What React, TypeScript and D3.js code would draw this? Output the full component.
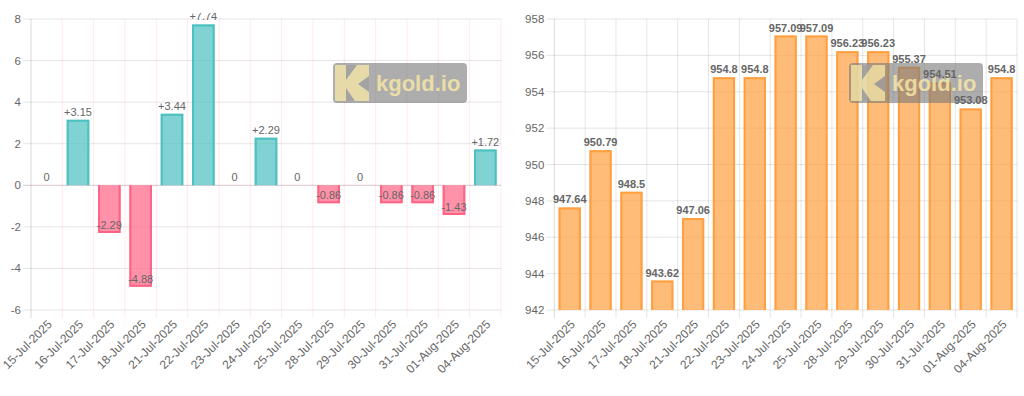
import * as d3 from 'd3'

const dates = [
  '15-Jul-2025', '16-Jul-2025', '17-Jul-2025', '18-Jul-2025', '21-Jul-2025',
  '22-Jul-2025', '23-Jul-2025', '24-Jul-2025', '25-Jul-2025', '28-Jul-2025',
  '29-Jul-2025', '30-Jul-2025', '31-Jul-2025', '01-Aug-2025', '04-Aug-2025'
]
const changes = [0, 3.15, -2.29, -4.88, 3.44, 7.74, 0, 2.29, 0, -0.86, 0, -0.86, -0.86, -1.43, 1.72]
const prices = [
  947.64, 950.79, 948.5, 943.62, 947.06, 954.8, 954.8, 957.09,
  957.09, 956.23, 956.23, 955.37, 954.51, 953.08, 954.8
]
const changeTicks = [-6, -4, -2, 0, 2, 4, 6, 8]
const priceTicks = [942, 944, 946, 948, 950, 952, 954, 956, 958]

const FONT = '"Liberation Sans", Arial, Helvetica, sans-serif'
const TEXT = '#666'
const GRID = 'rgba(0,0,0,0.1)'

const Watermark = ({ x, y }: { x: number; y: number }) => (
  <g transform={`translate(${x},${y})`}>
    <rect width={134} height={40} rx={4} fill="#7a7a7a" opacity={0.62} />
    <g transform="translate(2,2)" opacity={0.75}>
      <rect width={34} height={36} fill="#fbe9a8" />
      <polygon points="11,0 22,0 11,15" fill="#a0a0a0" />
      <polygon points="34,11 34,27 23,19" fill="#a0a0a0" />
      <polygon points="11,23 11,36 20,36" fill="#a0a0a0" />
    </g>
    <text x={43} y={28} fontFamily={FONT} fontWeight="bold" fontSize={22} fill="#fbe9a8" opacity={0.8}>
      kgold.io
    </text>
  </g>
)

type ChartProps = {
  values: number[]
  ticks: number[]
  domain: [number, number]
  left: number
  right: number
  kind: 'change' | 'price'
}

const Chart = ({ values, ticks, domain, left, right, kind }: ChartProps) => {
  const top = 19
  const bottom = 310
  const x = d3.scaleBand<string>().domain(dates).range([left, right])
  const y = d3.scaleLinear().domain(domain).range([bottom, top])
  const bw = x.bandwidth() * 0.72
  const base = kind === 'change' ? y(0) : y(domain[0])
  const vGrid = kind === 'change' ? 'rgba(255,99,132,0.14)' : GRID
  const bounds = d3.range(dates.length + 1).map(i => left + i * x.bandwidth())
  const clipId = `clip-${kind}`

  const fmt = (v: number) => (kind === 'price' ? String(v) : v > 0 ? `+${v}` : String(v))
  const fill = (v: number) =>
    kind === 'price' ? 'rgba(255,159,64,0.7)' : v >= 0 ? 'rgba(75,192,192,0.7)' : 'rgba(255,99,132,0.7)'
  const stroke = (v: number) =>
    kind === 'price' ? 'rgb(255,159,64)' : v >= 0 ? 'rgb(75,192,192)' : 'rgb(255,99,132)'

  return (
    <g>
      <defs>
        <clipPath id={clipId}>
          <rect x={left - 40} y={13} width={right - left + 60} height={380} />
        </clipPath>
      </defs>
      {ticks.map(t => (
        <line key={t} x1={left - 8} x2={right} y1={y(t)} y2={y(t)}
          stroke={kind === 'change' && t === 0 ? 'rgba(200,160,170,0.6)' : GRID} />
      ))}
      {bounds.map((bx, i) => (
        <line key={i} x1={bx} x2={bx} y1={top} y2={bottom + 8}
          stroke={i === 0 ? 'rgba(0,0,0,0.15)' : vGrid} />
      ))}
      {ticks.map(t => (
        <text key={t} x={left - 10} y={y(t)} dy="0.35em" textAnchor="end"
          fontFamily={FONT} fontSize={11.5} fill={TEXT}>{t}</text>
      ))}
      {dates.map(d => (
        <text key={d} transform={`translate(${x(d)! + x.bandwidth() / 2 + 3},${bottom + 12}) rotate(-45)`}
          textAnchor="end" dy="0.35em" fontFamily={FONT} fontSize={12} fill={TEXT}>{d}</text>
      ))}
      {values.map((v, i) => {
        if (v === 0 && kind === 'change') return null
        const cx = x(dates[i])! + x.bandwidth() / 2
        const x0 = cx - bw / 2
        const yv = y(v)
        const y1 = Math.min(yv, base)
        const h = Math.abs(base - yv)
        const dir = yv < base ? 1 : -1
        const e = yv + dir
        return (
          <g key={i}>
            <rect x={x0} y={y1} width={bw} height={h} fill={fill(v)} />
            <path d={`M${x0 + 1},${base}V${e}H${x0 + bw - 1}V${base}`} fill="none"
              stroke={stroke(v)} strokeWidth={2} />
          </g>
        )
      })}
      <Watermark x={kind === 'change' ? 333 : 849} y={63} />
      <g clipPath={`url(#${clipId})`}>
        {values.map((v, i) => (
          <text key={i} x={x(dates[i])! + x.bandwidth() / 2} y={y(v) - 4} textAnchor="middle"
            fontFamily={FONT} fontSize={11} fontWeight={kind === 'price' ? 'bold' : 'normal'}
            fill={TEXT}>{fmt(v)}</text>
        ))}
      </g>
    </g>
  )
}

export default function App() {
  return (
    <svg width={1024} height={396} style={{ position: 'absolute', left: 0, top: 0, background: '#fff' }}>
      <rect width={1024} height={396} fill="#fff" />
      <Chart values={changes} ticks={changeTicks} domain={[-6, 8]} left={31} right={501} kind="change" />
      <Chart values={prices} ticks={priceTicks} domain={[942, 958]} left={554.3} right={1017} kind="price" />
    </svg>
  )
}
